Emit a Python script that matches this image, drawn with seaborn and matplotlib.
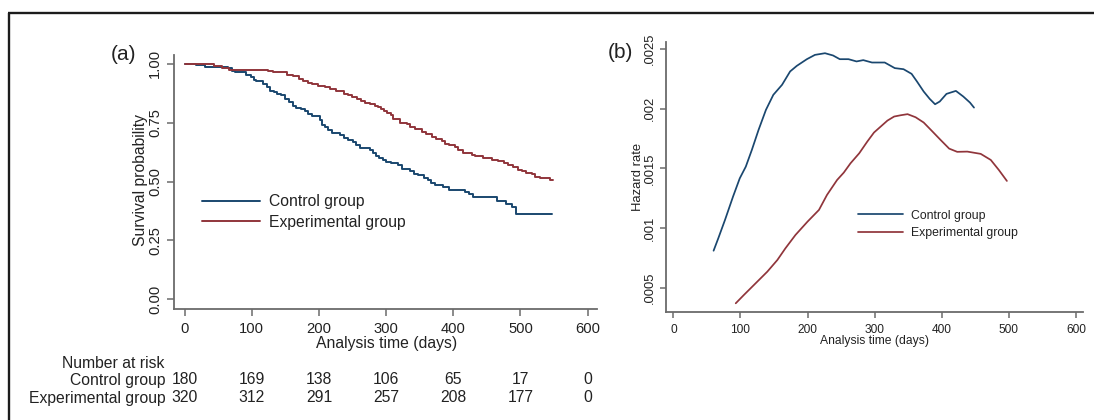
import matplotlib
matplotlib.use("Agg")
import matplotlib.pyplot as plt
import matplotlib.transforms as mtransforms
from matplotlib.lines import Line2D
import numpy as np
import pandas as pd
import seaborn as sns

# ---------------- data ----------------
groups = ["Control group", "Experimental group"]
colors = ["#1a476f", "#90353b"]

# Kaplan-Meier step points (time in days, survival probability)
ctrl_km_t = [0, 17, 30, 64, 70, 75, 92, 99, 104, 107, 117, 122, 127, 133, 138, 144,
             150, 156, 161, 166, 174, 179, 184, 189, 201, 205, 209, 214, 219, 231,
             238, 244, 251, 255, 261, 276, 281, 285, 290, 295, 300, 308, 318, 323,
             336, 342, 348, 357, 362, 367, 373, 384, 393, 417, 423, 429, 465, 479,
             487, 493, 547]
ctrl_km_s = [1.0, 0.994, 0.989, 0.981, 0.972, 0.965, 0.953, 0.943, 0.933, 0.928,
             0.915, 0.901, 0.887, 0.880, 0.873, 0.866, 0.852, 0.837, 0.823, 0.813,
             0.809, 0.798, 0.788, 0.778, 0.760, 0.741, 0.731, 0.717, 0.708, 0.696,
             0.686, 0.675, 0.668, 0.654, 0.644, 0.633, 0.621, 0.609, 0.600, 0.590,
             0.583, 0.579, 0.569, 0.555, 0.545, 0.534, 0.527, 0.517, 0.508, 0.494,
             0.484, 0.477, 0.466, 0.456, 0.446, 0.435, 0.418, 0.404, 0.390, 0.364,
             0.364]

exp_km_t = [0, 44, 55, 66, 124, 132, 139, 153, 161, 171, 176, 184, 189, 199, 209,
            217, 226, 233, 238, 243, 249, 256, 262, 268, 276, 283, 288, 293, 297,
            302, 308, 311, 321, 331, 336, 343, 353, 360, 368, 375, 383, 388, 393,
            403, 407, 415, 428, 432, 445, 457, 467, 475, 482, 489, 497, 502, 509,
            517, 522, 529, 537, 544, 549]
exp_km_s = [1.0, 0.992, 0.981, 0.975, 0.970, 0.967, 0.965, 0.953, 0.948, 0.936,
            0.929, 0.919, 0.914, 0.908, 0.901, 0.894, 0.887, 0.883, 0.873, 0.866,
            0.859, 0.852, 0.844, 0.835, 0.828, 0.823, 0.816, 0.809, 0.802, 0.792,
            0.785, 0.765, 0.748, 0.743, 0.732, 0.724, 0.710, 0.700, 0.689, 0.682,
            0.672, 0.661, 0.654, 0.647, 0.633, 0.623, 0.614, 0.607, 0.600, 0.593,
            0.587, 0.579, 0.569, 0.562, 0.551, 0.545, 0.537, 0.530, 0.520, 0.516,
            0.513, 0.508, 0.508]

# Smoothed hazard estimates
ctrl_hz_t = [60, 67, 77, 89, 99, 108, 117, 127, 138, 149, 162, 174, 184, 199, 211,
             226, 238, 248, 261, 273, 283, 296, 315, 330, 343, 355, 363, 373, 382,
             390, 397, 407, 421, 432, 442, 448]
ctrl_hz = [0.000810, 0.000914, 0.001068, 0.001264, 0.001417, 0.001515, 0.001655,
           0.001823, 0.001991, 0.002117, 0.002201, 0.002313, 0.002360, 0.002416,
           0.002452, 0.002466, 0.002447, 0.002416, 0.002416, 0.002397, 0.002408,
           0.002388, 0.002388, 0.002341, 0.002332, 0.002293, 0.002229, 0.002145,
           0.002083, 0.002038, 0.002061, 0.002125, 0.002150, 0.002103, 0.002052,
           0.002010]

exp_hz_t = [93, 105, 120, 140, 155, 167, 182, 200, 217, 229, 244, 254, 264, 277,
            289, 299, 309, 319, 329, 339, 349, 361, 373, 386, 398, 411, 423, 438,
            458, 473, 485, 497]
exp_hz = [0.000369, 0.000438, 0.000522, 0.000634, 0.000732, 0.000830, 0.000942,
          0.001054, 0.001152, 0.001278, 0.001403, 0.001465, 0.001543, 0.001627,
          0.001725, 0.001801, 0.001851, 0.001901, 0.001935, 0.001946, 0.001955,
          0.001929, 0.001885, 0.001810, 0.001740, 0.001666, 0.001639, 0.001641,
          0.001622, 0.001571, 0.001487, 0.001395]

# Number at risk
risk_times = [0, 100, 200, 300, 400, 500, 600]
ctrl_risk = [180, 169, 138, 106, 65, 17, 0]
exp_risk = [320, 312, 291, 257, 208, 177, 0]

x_ticks = [0, 100, 200, 300, 400, 500, 600]
surv_ticks = [0.0, 0.25, 0.5, 0.75, 1.0]
surv_labels = ["0.00", "0.25", "0.50", "0.75", "1.00"]
hz_ticks = [0.0005, 0.001, 0.0015, 0.002, 0.0025]
hz_labels = [".0005", ".001", ".0015", ".002", ".0025"]

# ---------------- style ----------------
sns.set_theme(style="ticks")
plt.rcParams["font.family"] = ["Liberation Sans", "DejaVu Sans"]
AX_GRAY = "#6b6b6b"
TXT = "#222222"

W, H = 1094, 420
fig = plt.figure(figsize=(W / 100, H / 100), dpi=100)
fig.patch.set_facecolor("white")

ax1 = fig.add_axes([174 / W, 1 - 309 / H, 423 / W, 254 / H])
ax2 = fig.add_axes([666 / W, 1 - 312 / H, 417 / W, 270 / H])

km = pd.concat([
    pd.DataFrame({"time": ctrl_km_t, "surv": ctrl_km_s, "group": groups[0]}),
    pd.DataFrame({"time": exp_km_t, "surv": exp_km_s, "group": groups[1]}),
])
hz = pd.concat([
    pd.DataFrame({"time": ctrl_hz_t, "hazard": ctrl_hz, "group": groups[0]}),
    pd.DataFrame({"time": exp_hz_t, "hazard": exp_hz, "group": groups[1]}),
])
pal = dict(zip(groups, colors))

sns.lineplot(data=km, x="time", y="surv", hue="group", hue_order=groups,
             palette=pal, estimator=None, drawstyle="steps-post", lw=1.4,
             legend=False, ax=ax1)
sns.lineplot(data=hz, x="time", y="hazard", hue="group", hue_order=groups,
             palette=pal, estimator=None, sort=False, lw=1.25, legend=False, ax=ax2)


def style_axes(ax, fs_tick, tick_len):
    for s in ("top", "right"):
        ax.spines[s].set_visible(False)
    for s in ("left", "bottom"):
        ax.spines[s].set_color(AX_GRAY)
        ax.spines[s].set_linewidth(1.3)
    ax.tick_params(axis="both", colors=AX_GRAY, length=tick_len, width=1.1,
                   labelcolor=TXT, labelsize=fs_tick)
    ax.set_facecolor("white")


# panel (a)
style_axes(ax1, 10.6, 5)
ax1.set_xlim(-15.8, 614)
ax1.set_ylim(-0.042, 1.038)
ax1.set_xticks(x_ticks)
ax1.set_yticks(surv_ticks)
ax1.set_yticklabels(surv_labels, rotation=90, va="center")
ax1.tick_params(axis="y", pad=3.5)
ax1.tick_params(axis="x", pad=4.5)
ax1.set_xlabel("Analysis time (days)", fontsize=11.3, color=TXT)
ax1.set_ylabel("Survival probability", fontsize=11.3, color=TXT)
ax1.xaxis.set_label_coords(0.502, -0.134)
ax1.xaxis.label.set_va("center")
ax1.yaxis.set_label_coords(-0.080, 0.508)
ax1.yaxis.label.set_va("center")

h1 = [Line2D([], [], color=c, lw=1.4) for c in colors]
ax1.legend(h1, groups, loc="center left", bbox_to_anchor=(0.0655, 0.3825),
           frameon=False, fontsize=11.3, handlelength=3.7, handletextpad=0.6,
           labelspacing=0.35, borderpad=0, borderaxespad=0, labelcolor=TXT)

# number-at-risk table below panel (a)
tr = mtransforms.blended_transform_factory(ax1.transData, fig.transFigure)
fig.text(164 / W, 1 - 363 / H, "Number at risk", ha="right", va="center",
         fontsize=11.3, color=TXT)
for row_y, name, counts in [(380, groups[0], ctrl_risk), (398, groups[1], exp_risk)]:
    fig.text(166 / W, 1 - row_y / H, name, ha="right", va="center",
             fontsize=11.3, color=TXT)
    for t, n in zip(risk_times, counts):
        ax1.text(t, 1 - row_y / H, str(n), transform=tr, ha="center",
                 va="center", fontsize=11.3, color=TXT)

# panel (b)
style_axes(ax2, 8.6, 4.5)
ax2.set_xlim(-10.9, 610.4)
ax2.set_ylim(0.000296, 0.00256)
ax2.set_xticks(x_ticks)
ax2.set_yticks(hz_ticks)
ax2.set_yticklabels(hz_labels, rotation=90, va="center", fontsize=9.4)
ax2.tick_params(axis="y", pad=2.5)
ax2.tick_params(axis="x", pad=4)
ax2.set_xlabel("Analysis time (days)", fontsize=8.7, color=TXT)
ax2.set_ylabel("Hazard rate", fontsize=9.4, color=TXT)
ax2.xaxis.set_label_coords(0.501, -0.107)
ax2.xaxis.label.set_va("center")
ax2.yaxis.set_label_coords(-0.068, 0.5)
ax2.yaxis.label.set_va("center")

h2 = [Line2D([], [], color=c, lw=1.25) for c in colors]
ax2.legend(h2, groups, loc="center left", bbox_to_anchor=(0.4604, 0.324),
           frameon=False, fontsize=8.8, handlelength=3.7, handletextpad=0.65,
           labelspacing=0.45, borderpad=0, borderaxespad=0, labelcolor=TXT)

# panel letters
fig.text(123.5 / W, 1 - 55 / H, "(a)", ha="center", va="center", fontsize=15, color=TXT)
fig.text(620.5 / W, 1 - 53 / H, "(b)", ha="center", va="center", fontsize=15, color=TXT)

# outer frame (left and top edges)
frame_kw = dict(color="#1c1c1c", lw=1.7, transform=fig.transFigure, solid_capstyle="butt")
fig.add_artist(Line2D([8.5 / W, 8.5 / W], [0, 1 - 13 / H], **frame_kw))
fig.add_artist(Line2D([7.7 / W, 1], [1 - 13 / H, 1 - 13 / H], **frame_kw))

fig.savefig("out.png", dpi=100, facecolor="white")
